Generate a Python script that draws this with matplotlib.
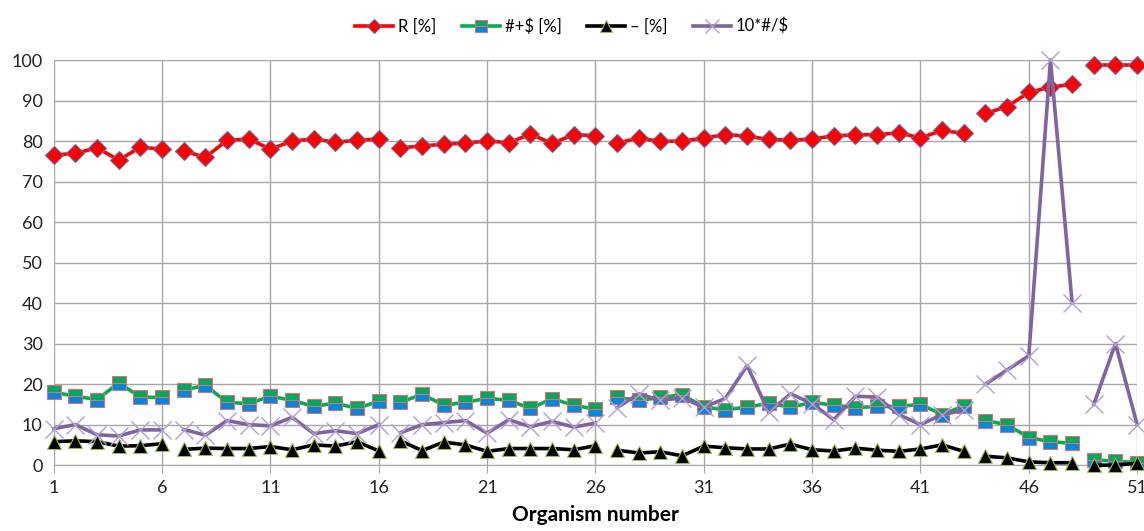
import numpy as np
import matplotlib
matplotlib.use('Agg')
import matplotlib.pyplot as plt
from matplotlib.lines import Line2D

organisms = np.arange(1, 52)

# segments that are drawn as separate line pieces (first, last organism)
groups = [(1, 6), (7, 16), (17, 26), (27, 43), (44, 48), (49, 51)]

r_pct = [76.5, 77.0, 78.3, 75.3, 78.5, 78.0,
         77.5, 76.0, 80.2, 80.5, 78.0, 80.0, 80.5, 79.7, 80.2, 80.5,
         78.3, 78.8, 79.2, 79.5, 80.0, 79.6, 81.7, 79.4, 81.6, 81.3,
         79.5, 80.7, 79.9, 80.0, 80.7, 81.6, 81.2, 80.4, 80.2, 80.5, 81.3,
         81.5, 81.6, 82.0, 80.8, 82.6, 81.9,
         86.8, 88.5, 92.0, 93.3, 94.0,
         98.8, 98.8, 98.8]

hs_pct = [18.0, 17.0, 16.2, 20.3, 16.8, 16.7,
          18.5, 19.7, 15.5, 15.2, 17.0, 16.0, 14.5, 15.3, 14.0, 15.8,
          15.5, 17.5, 14.8, 15.5, 16.5, 16.0, 14.0, 16.4, 14.8, 13.8,
          16.7, 16.0, 16.7, 17.4, 14.3, 13.7, 14.3, 15.3, 14.3, 15.5, 14.8,
          14.2, 14.5, 14.5, 15.0, 12.5, 14.6,
          11.0, 10.0, 6.8, 5.8, 5.4,
          1.3, 1.0, 0.6]

dash_pct = [5.8, 6.0, 5.8, 4.7, 4.8, 5.3,
            3.9, 4.2, 4.1, 4.1, 4.6, 3.8, 5.0, 4.7, 5.8, 3.5,
            6.0, 3.6, 5.7, 5.0, 3.4, 4.1, 4.1, 4.1, 3.8, 4.8,
            3.7, 3.0, 3.3, 2.3, 4.7, 4.3, 4.0, 4.0, 5.2, 3.8, 3.5,
            4.2, 3.7, 3.4, 4.0, 5.0, 3.4,
            2.2, 1.8, 0.8, 0.6, 0.6,
            0.0, 0.0, 0.5]

ratio10 = [9.0, 10.0, 7.5, 7.2, 8.7, 8.7,
           8.8, 7.4, 11.0, 10.0, 9.7, 11.8, 7.8, 8.5, 7.8, 10.0,
           8.0, 10.0, 10.5, 11.0, 7.9, 11.2, 9.5, 10.8, 9.4, 10.4,
           14.2, 17.6, 16.0, 16.6, 14.3, 16.5, 24.6, 13.0, 17.6, 15.2, 11.2,
           17.0, 16.8, 12.5, 10.0, 12.5, 13.5,
           20.0, 23.5, 27.0, 100.0, 40.0,
           15.0, 30.0, 10.0]

labels = ['R [%]', '#+$ [%]', '\u2013 [%]', '10*#/$']

styles = [
    dict(color='#ff0000', lw=2.6, marker='D', ms=9, mfc='#ff0000', mec='#6a6a9a', mew=0.8),
    dict(color='#00b050', lw=2.6, marker='s', ms=10, mfc='#00a860', mfcalt='#0088dd',
         fillstyle='top', mec='#e07070', mew=0.8),
    dict(color='#000000', lw=2.6, marker='^', ms=10, mfc='#000000', mec='#9bbb59', mew=0.8),
    dict(color='#8064a2', lw=2.6, marker='x', ms=13, mfc='none', mec='#b0a0d0', mew=1.0),
]

plt.rcParams['font.family'] = ['Lato', 'DejaVu Sans']

fig = plt.figure(figsize=(11.44, 5.31), dpi=100)
ax = fig.add_axes([0.047, 0.124, 0.947, 0.763])

series = [r_pct, hs_pct, dash_pct, ratio10]
for vals, st in zip(series, styles):
    vals = np.array(vals)
    st = dict(st)
    alt = st.pop('mfcalt', None)
    for a, b in groups:
        sel = (organisms >= a) & (organisms <= b)
        ax.plot(organisms[sel], vals[sel], color=st['color'], lw=st['lw'],
                marker=st['marker'], ms=st['ms'], markerfacecolor=st['mfc'],
                markerfacecoloralt=alt if alt else st['mfc'],
                fillstyle=st.get('fillstyle', 'full'),
                markeredgecolor=st['mec'], markeredgewidth=st['mew'],
                clip_on=False, zorder=3)

ax.set_xlim(1, 51)
ax.set_ylim(0, 100)
ax.set_xticks(np.arange(1, 52, 5))
ax.set_yticks(np.arange(0, 101, 10))
ax.grid(True, color='#a6a6a6', lw=1.0)
ax.set_axisbelow(True)
for s in ['top', 'right', 'left']:
    ax.spines[s].set_visible(False)
ax.spines['bottom'].set_color('#a6a6a6')
ax.tick_params(axis='y', length=0, labelsize=13, pad=8, labelcolor='#222222')
ax.tick_params(axis='x', length=6, color='#a6a6a6', labelsize=13, pad=5, labelcolor='#222222')
ax.set_xlabel('Organism number', fontsize=15, fontweight='bold', labelpad=6)

handles = []
for lab, st in zip(labels, styles):
    alt = st.get('mfcalt', st['mfc'])
    handles.append(Line2D([], [], color=st['color'], lw=st['lw'], marker=st['marker'],
                          ms=st['ms'] * 0.8, markerfacecolor=st['mfc'],
                          markerfacecoloralt=alt, fillstyle=st.get('fillstyle', 'full'),
                          markeredgecolor=st['mec'], markeredgewidth=st['mew'],
                          label=lab))
fig.legend(handles=handles, loc='upper center', bbox_to_anchor=(0.5, 0.995), ncol=4,
           frameon=False, fontsize=12, handlelength=2.3, handletextpad=0.3,
           columnspacing=1.5)

fig.savefig('out.png', dpi=100)
